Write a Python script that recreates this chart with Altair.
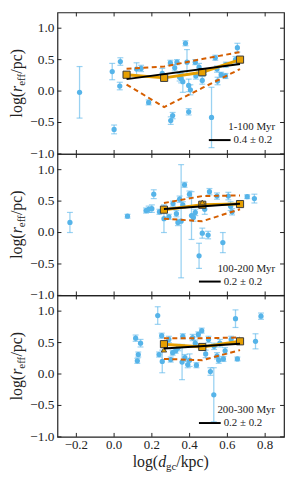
import altair as alt
import pandas as pd

# ---------------- data ----------------
x_ticks = [-0.2, 0.0, 0.2, 0.4, 0.6, 0.8]
y_ticks = [-1.0, -0.5, 0.0, 0.5, 1.0]

age_labels = ["1-100 Myr", "100-200 Myr", "200-300 Myr"]
slope_labels = ["0.4 \u00b1 0.2", "0.2 \u00b1 0.2", "0.2 \u00b1 0.2"]

# panel 1 (1-100 Myr)
p1_x = [-0.183, -0.010, 0.033, 0.030, 0.000, 0.119, 0.143, 0.183, 0.255, 0.298,
        0.300, 0.310, 0.321, 0.333, 0.347, 0.355, 0.364, 0.378, 0.386, 0.395,
        0.395, 0.404, 0.430, 0.433, 0.450, 0.467, 0.476, 0.516, 0.536, 0.545,
        0.548, 0.567, 0.590, 0.592, 0.643, 0.653]
p1_y = [-0.02, 0.31, 0.47, 0.08, -0.61, 0.35, 0.36, -0.18, 0.28, 0.45,
        -0.47, -0.39, 0.37, 0.46, 0.22, 0.20, 0.15, 0.76, 0.46, 0.09,
        -0.33, 0.02, 0.46, 0.24, 0.38, 0.17, 0.31, -0.42, 0.53, 0.35,
        0.16, 0.26, 0.24, 0.42, 0.50, 0.69]
p1_e = [0.41, 0.13, 0.06, 0.06, 0.07, 0.10, 0.05, 0.04, 0.08, 0.04,
        0.06, 0.05, 0.05, 0.04, 0.06, 0.07, 0.17, 0.04, 0.20, 0.10,
        0.05, 0.08, 0.04, 0.05, 0.06, 0.06, 0.05, 0.48, 0.04, 0.05,
        0.06, 0.04, 0.04, 0.04, 0.05, 0.07]
p1_bx = [0.066, 0.265, 0.467, 0.667]
p1_med = [0.26, 0.21, 0.30, 0.50]
p1_up = [0.354, 0.39, 0.51, 0.62]
p1_lo = [0.104, -0.255, 0.05, 0.35]
p1_tri_x = []
p1_tri_y = []
p1_fit_x = [0.066, 0.667]
p1_fit_y = [0.19, 0.432]

# panel 2 (100-200 Myr)
p2_x = [-0.234, 0.071, 0.169, 0.183, 0.200, 0.210, 0.240, 0.264, 0.290, 0.312,
        0.330, 0.338, 0.347, 0.355, 0.364, 0.373, 0.399, 0.410, 0.420, 0.430,
        0.450, 0.467, 0.480, 0.498, 0.505, 0.545, 0.576, 0.605, 0.617, 0.625,
        0.705, 0.743]
p2_y = [0.16, 0.26, 0.35, 0.37, 0.38, 0.61, 0.33, 0.22, 0.25, 0.46,
        0.30, 0.16, 0.53, 0.18, 0.44, 0.76, 0.61, 0.27, 0.24, 0.32,
        -0.37, -0.01, 0.37, -0.04, 0.65, 0.58, -0.16, 0.58, 0.42, 0.33,
        0.57, 0.54]
p2_e = [0.16, 0.03, 0.04, 0.05, 0.06, 0.07, 0.04, 0.22, 0.04, 0.04,
        0.05, 0.05, 0.05, 0.90, 0.05, 0.04, 0.05, 0.38, 0.06, 0.05,
        0.20, 0.08, 0.08, 0.06, 0.05, 0.05, 0.16, 0.06, 0.07, 0.05,
        0.03, 0.07]
p2_bx = [0.264, 0.467, 0.667]
p2_med = [0.364, 0.442, 0.453]
p2_up = [0.47, 0.58, 0.59]
p2_lo = [0.22, 0.18, 0.37]
p2_tri_x = [0.467]
p2_tri_y = [0.48]
p2_fit_x = [0.264, 0.667]
p2_fit_y = [0.375, 0.458]

# panel 3 (200-300 Myr)
p3_x = [0.114, 0.140, 0.128, 0.123, 0.231, 0.238, 0.252, 0.255, 0.290, 0.300,
        0.310, 0.326, 0.340, 0.360, 0.364, 0.375, 0.390, 0.400, 0.416, 0.430,
        0.436, 0.446, 0.464, 0.485, 0.500, 0.510, 0.528, 0.530, 0.545, 0.554,
        0.560, 0.579, 0.588, 0.620, 0.643, 0.653, 0.749, 0.778]
p3_y = [0.57, 0.49, 0.31, 0.21, 0.93, 0.31, 0.61, 0.20, 0.55, 0.23,
        0.34, 0.37, 0.42, 0.19, 0.60, 0.26, 0.15, 0.22, 0.58, 0.49,
        0.14, 0.63, 0.69, 0.32, 0.55, 0.04, -0.33, 0.44, 0.29, 0.22,
        0.49, 0.24, 0.37, 0.55, 0.88, 0.24, 0.52, 0.92]
p3_e = [0.05, 0.06, 0.04, 0.04, 0.14, 0.04, 0.04, 0.18, 0.05, 0.04,
        0.04, 0.04, 0.05, 0.28, 0.04, 0.05, 0.05, 0.10, 0.05, 0.05,
        0.04, 0.04, 0.04, 0.06, 0.05, 0.06, 0.43, 0.05, 0.05, 0.05,
        0.06, 0.04, 0.05, 0.05, 0.14, 0.03, 0.12, 0.05]
p3_bx = [0.264, 0.467, 0.667]
p3_med = [0.475, 0.43, 0.52]
p3_up = [0.57, 0.57, 0.58]
p3_lo = [0.24, 0.22, 0.38]
p3_tri_x = [0.264]
p3_tri_y = [0.386]
p3_fit_x = [0.264, 0.667]
p3_fit_y = [0.405, 0.48]

# ---------------- style ----------------
W, H = 229, 143
FONT = "Liberation Serif"
BLUE = "#56B4E9"
ORANGE = "#E69F00"
VERM = "#D55E00"
INK = "#222222"
XS = alt.Scale(domain=[-0.3, 0.9], nice=False, zero=False)
YS = alt.Scale(domain=[-1.0, 1.25], nice=False, zero=False)

# approx glyph widths (em/1000) for composing titles with subscripts
GW = {"l": 278, "o": 500, "g": 500, "(": 333, ")": 333, "/": 278, "p": 500,
      "c": 444, "k": 500, "e": 444, "f": 333, "d": 500, "r": 389}


def tw(s, size):
    return sum(GW.get(ch, 500) for ch in s) * size / 1000.0


MAIN, SUB = 16, 11


def fmt(v):
    return f"{v:.1f}".replace("-", "\u2212")


def text_layer(txt, **kw):
    enc = {k: kw.pop(k) for k in ("x", "y")}
    return alt.Chart(pd.DataFrame({"t": [txt]})).mark_text(
        font=FONT, color=INK, **kw).encode(text="t:N", **enc)


def y_title():
    parts = [("log(", MAIN, "normal", 0), ("r", MAIN, "italic", 0),
             ("eff", SUB, "normal", 3), ("/pc)", MAIN, "normal", 0)]
    total = sum(tw(p, s) for p, s, _, _ in parts)
    y0 = H / 2 + total / 2
    layers, cum = [], 0
    for p, s, st, off in parts:
        layers.append(text_layer(p, fontSize=s, fontStyle=st, angle=270,
                                 align="left", baseline="alphabetic",
                                 x=alt.value(-36 + off), y=alt.value(y0 - cum)))
        cum += tw(p, s)
    return layers


def x_title():
    parts = [("log(", MAIN, "normal", 0), ("d", MAIN, "italic", 0),
             ("gc", SUB, "normal", 3), ("/kpc)", MAIN, "normal", 0)]
    total = sum(tw(p, s) for p, s, _, _ in parts)
    x0 = W / 2 - total / 2
    layers, cum = [], 0
    for p, s, st, off in parts:
        layers.append(text_layer(p, fontSize=s, fontStyle=st, align="left",
                                 baseline="alphabetic",
                                 x=alt.value(x0 + cum), y=alt.value(H + 30 + off)))
        cum += tw(p, s)
    return layers


def panel(idx, xs, ys, es, bx, med, up, lo, trx, try_, fx, fy, show_x, leg_dx):
    pts = pd.DataFrame({"x": xs, "y": ys, "e": es})
    pts["lo"] = pts["y"] - pts["e"]
    pts["hi"] = pts["y"] + pts["e"]
    bins = pd.DataFrame({"x": bx, "med": med, "up": up, "lo": lo})
    fit = pd.DataFrame({"x": fx, "y": fy})
    tri = pd.DataFrame({"x": trx, "y": try_})
    xt = pd.DataFrame({"v": x_ticks, "lab": [fmt(v) for v in x_ticks]})
    yt = pd.DataFrame({"v": y_ticks, "lab": [fmt(v) for v in y_ticks]})

    X = alt.X("x:Q", scale=XS, axis=None)

    base_pts = alt.Chart(pts)
    bars = base_pts.mark_rule(color=BLUE, opacity=0.6, strokeWidth=1.3).encode(
        x=X, y=alt.Y("lo:Q", scale=YS, axis=None), y2="hi:Q")
    cap_lo = base_pts.mark_tick(color=BLUE, opacity=0.6, orient="horizontal",
                                size=6, thickness=1.2).encode(
        x=X, y=alt.Y("lo:Q", scale=YS, axis=None))
    cap_hi = base_pts.mark_tick(color=BLUE, opacity=0.6, orient="horizontal",
                                size=6, thickness=1.2).encode(
        x=X, y=alt.Y("hi:Q", scale=YS, axis=None))
    dots = base_pts.mark_circle(color=BLUE, opacity=1, size=28).encode(
        x=X, y=alt.Y("y:Q", scale=YS, axis=None))

    bb = alt.Chart(bins)
    dash_up = bb.mark_line(color=VERM, strokeWidth=2, strokeDash=[5, 3.5]).encode(
        x=X, y=alt.Y("up:Q", scale=YS, axis=None))
    dash_lo = bb.mark_line(color=VERM, strokeWidth=2, strokeDash=[5, 3.5]).encode(
        x=X, y=alt.Y("lo:Q", scale=YS, axis=None))
    med_line = bb.mark_line(color=ORANGE, strokeWidth=3).encode(
        x=X, y=alt.Y("med:Q", scale=YS, axis=None))
    squares = bb.mark_square(fill=ORANGE, stroke="#3a3a3a", strokeWidth=1,
                             opacity=1, size=52).encode(
        x=X, y=alt.Y("med:Q", scale=YS, axis=None))
    tris = alt.Chart(tri).mark_point(shape="triangle-up", filled=True, fill=ORANGE,
                                     stroke="#3a3a3a", strokeWidth=0.8, opacity=1,
                                     size=30).encode(
        x=X, y=alt.Y("y:Q", scale=YS, axis=None))
    fit_line = alt.Chart(fit).mark_line(color="black", strokeWidth=2).encode(
        x=X, y=alt.Y("y:Q", scale=YS, axis=None))

    # inward ticks on all four sides
    tk = dict(color=INK, strokeWidth=1)
    xt_bot = alt.Chart(xt).mark_rule(**tk).encode(
        x=alt.X("v:Q", scale=XS, axis=None), y=alt.value(H), y2=alt.value(H - 4))
    xt_top = alt.Chart(xt).mark_rule(**tk).encode(
        x=alt.X("v:Q", scale=XS, axis=None), y=alt.value(0), y2=alt.value(4))
    yt_l = alt.Chart(yt).mark_rule(**tk).encode(
        y=alt.Y("v:Q", scale=YS, axis=None), x=alt.value(0), x2=alt.value(4))
    yt_r = alt.Chart(yt).mark_rule(**tk).encode(
        y=alt.Y("v:Q", scale=YS, axis=None), x=alt.value(W), x2=alt.value(W - 4))

    # tick labels
    ylab = alt.Chart(yt).mark_text(font=FONT, fontSize=13.5, color=INK,
                                   align="right", baseline="middle").encode(
        y=alt.Y("v:Q", scale=YS, axis=None), x=alt.value(-3), text="lab:N")

    # in-panel legend
    lab = text_layer(age_labels[idx], fontSize=11, align="right", baseline="middle",
                     x=alt.value(220), y=alt.value(116))
    leg_line = alt.Chart(pd.DataFrame({"t": [slope_labels[idx]]})).mark_rule(
        color="black", strokeWidth=2).encode(
        x=alt.value(143 + leg_dx), x2=alt.value(165 + leg_dx), y=alt.value(129))
    leg_txt = text_layer(slope_labels[idx], fontSize=11, align="left",
                         baseline="middle",
                         x=alt.value(168 + leg_dx), y=alt.value(129))

    layers = [bars, cap_lo, cap_hi, dots, dash_up, dash_lo, med_line,
              squares, tris, fit_line, xt_bot, xt_top, yt_l, yt_r, ylab,
              lab, leg_line, leg_txt]
    layers += y_title()
    if show_x:
        xlab = alt.Chart(xt).mark_text(font=FONT, fontSize=13, color=INK,
                                       align="center", baseline="top").encode(
            x=alt.X("v:Q", scale=XS, axis=None), y=alt.value(H + 2), text="lab:N")
        layers.append(xlab)
        layers += x_title()
    return alt.layer(*layers).properties(width=W, height=H)


c1 = panel(0, p1_x, p1_y, p1_e, p1_bx, p1_med, p1_up, p1_lo, p1_tri_x, p1_tri_y,
           p1_fit_x, p1_fit_y, False, 10)
c2 = panel(1, p2_x, p2_y, p2_e, p2_bx, p2_med, p2_up, p2_lo, p2_tri_x, p2_tri_y,
           p2_fit_x, p2_fit_y, False, 0)
c3 = panel(2, p3_x, p3_y, p3_e, p3_bx, p3_med, p3_up, p3_lo, p3_tri_x, p3_tri_y,
           p3_fit_x, p3_fit_y, True, 0)

chart = alt.vconcat(c1, c2, c3, spacing=0, bounds="flush").properties(
    padding={"left": 0, "top": 0, "right": 0, "bottom": 0},
    background="white",
).configure_view(
    stroke=INK, strokeWidth=1.2
)

chart.save("out.html", embed_options={"renderer": "svg", "actions": False})
